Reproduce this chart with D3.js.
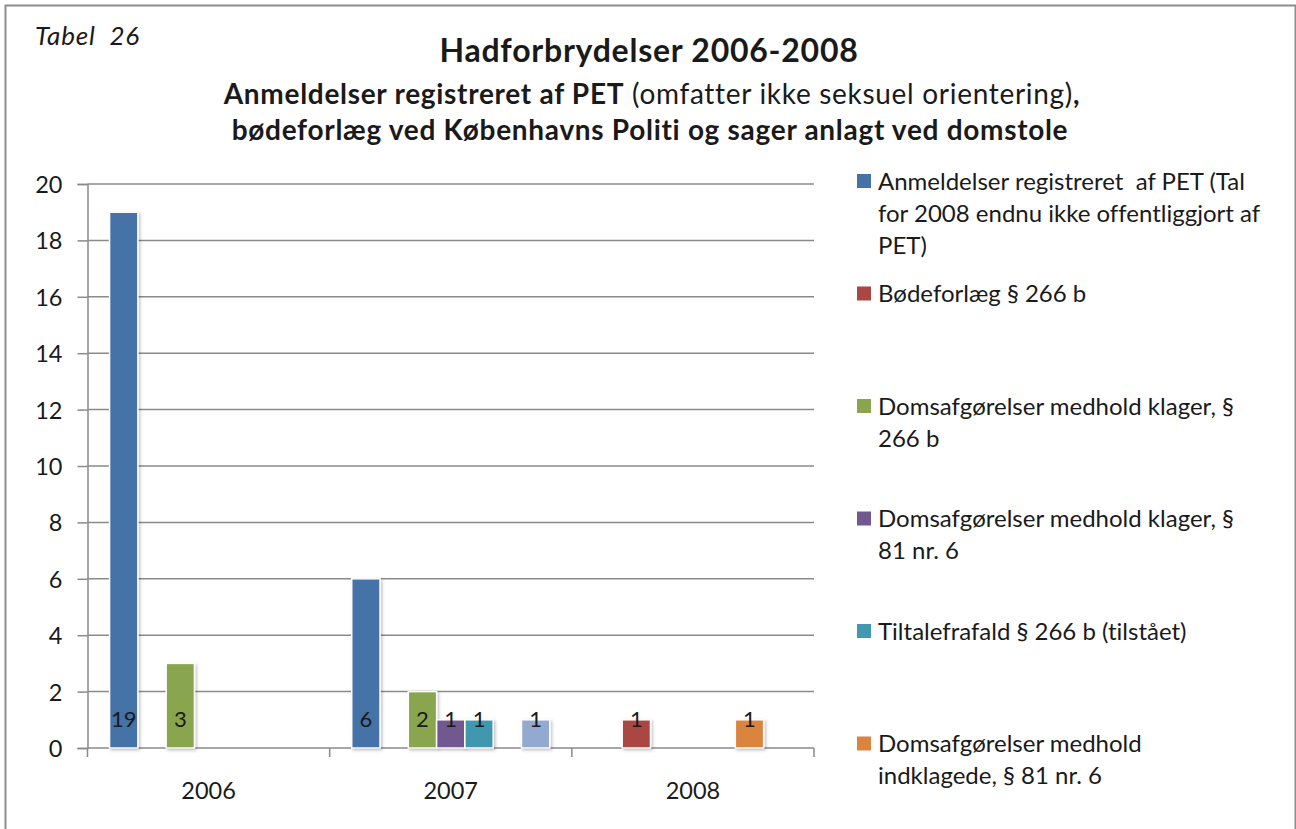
<!DOCTYPE html>
<html>
<head>
<meta charset="utf-8">
<script src="https://cdn.jsdelivr.net/npm/d3@7/dist/d3.min.js"></script>
<style>
  body { margin: 0; background: #fff; }
  text { font-family: Lato, "Open Sans", sans-serif; fill: #1a1a1a; font-variant-ligatures: none; }
</style>
</head>
<body>
<script>
var width = 1296,
    height = 829;

// data
var years = ['2006', '2007', '2008'];
var seriesNames = [
    ['Anmeldelser registreret  af PET (Tal', 'for 2008 endnu ikke offentliggjort af', 'PET)'],
    ['Bødeforlæg § 266 b'],
    ['Domsafgørelser medhold klager, §', '266 b'],
    ['Domsafgørelser medhold klager, §', '81 nr. 6'],
    ['Tiltalefrafald § 266 b (tilstået)'],
    ['Domsafgørelser medhold', 'indklagede, § 81 nr. 6'],
    [] // lyseblå serie, legendens post er skåret af
];
var seriesColors = ['#4572a7', '#aa4643', '#89a54e', '#71588f', '#4198af', '#db843d', '#93a9cf'];
var anmeldelser = [19, 6, null];
var boedeforlaeg = [null, null, 1];
var klager266 = [3, 2, null];
var klager81 = [null, 1, null];
var tiltalefrafald = [null, 1, null];
var indklagede81 = [null, null, 1];
var lysebla = [null, 1, null];
var seriesValues = [anmeldelser, boedeforlaeg, klager266, klager81, tiltalefrafald, indklagede81, lysebla];
var yTicks = [0, 2, 4, 6, 8, 10, 12, 14, 16, 18, 20];

var svg = d3.select('body').append('svg').attr('width', width).attr('height', height);

svg.append('rect').attr('x', 0).attr('y', 0).attr('width', width).attr('height', height).attr('fill', '#fff');
// ramme
svg.append('rect').attr('x', 5.5).attr('y', 5.5).attr('width', 1290).attr('height', 840)
    .attr('fill', 'none').attr('stroke', '#8c8c8c').attr('stroke-width', 2);

svg.append('text').attr('x', 35).attr('y', 45).style('font-size', '26px').style('font-style', 'italic')
    .style('letter-spacing', '0.8px').style('white-space', 'pre').text('Tabel  26');

svg.append('text').attr('x', 649).attr('y', 62).attr('text-anchor', 'middle')
    .style('font-size', '32px').style('font-weight', 'bold').style('letter-spacing', '0.75px')
    .text('Hadforbrydelser 2006-2008');

var sub1 = svg.append('text').attr('x', 652).attr('y', 104).attr('text-anchor', 'middle')
    .style('font-size', '28px').style('letter-spacing', '0.7px');
sub1.append('tspan').style('font-weight', 'bold').text('Anmeldelser registreret af PET');
sub1.append('tspan').text(' (omfatter ikke seksuel orientering)');
sub1.append('tspan').style('font-weight', 'bold').text(',');
svg.append('text').attr('x', 650).attr('y', 140).attr('text-anchor', 'middle')
    .style('font-size', '28px').style('letter-spacing', '0.7px')
    .style('font-weight', 'bold').text('bødeforlæg ved Københavns Politi og sager anlagt ved domstole');

// plotområde
var plotLeft = 87.5, plotRight = 814, plotTop = 184, plotBottom = 748;

var x0 = d3.scaleBand().domain(years).range([plotLeft, plotRight]).paddingInner(0).paddingOuter(0);
var x1 = d3.scaleBand().domain(d3.range(seriesValues.length)).range([0, x0.bandwidth()])
    .paddingInner(0).paddingOuter(0.78);
var y = d3.scaleLinear().domain([0, 20]).range([plotBottom, plotTop]);

// gitterlinjer
svg.append('g').selectAll('line').data(yTicks.slice(1)).enter().append('line')
    .attr('x1', plotLeft).attr('x2', plotRight)
    .attr('y1', function (d) { return y(d); }).attr('y2', function (d) { return y(d); })
    .attr('stroke', '#8a8a8a').attr('stroke-width', 1.5);

// y-akse
var yAxis = svg.append('g').attr('transform', 'translate(' + plotLeft + ',0)')
    .call(d3.axisLeft(y).tickValues(yTicks).tickSize(10).tickPadding(15));
yAxis.select('.domain').attr('stroke', '#8a8a8a').attr('stroke-width', 1.5);
yAxis.selectAll('.tick line').attr('stroke', '#8a8a8a').attr('stroke-width', 1.5);
yAxis.selectAll('.tick text').style('font-size', '23.5px').style('font-family', 'Lato, sans-serif')
    .attr('fill', '#1a1a1a').attr('dy', '0.36em');

// x-akse
var xAxis = svg.append('g').attr('transform', 'translate(0,' + plotBottom + ')');
xAxis.append('line').attr('x1', plotLeft).attr('x2', plotRight).attr('stroke', '#8a8a8a').attr('stroke-width', 1.5);
var bounds = years.map(function (d) { return x0(d); }).concat([plotRight]);
xAxis.selectAll('line.tk').data(bounds).enter().append('line').attr('class', 'tk')
    .attr('x1', function (d) { return d; }).attr('x2', function (d) { return d; })
    .attr('y1', 0).attr('y2', 9).attr('stroke', '#8a8a8a').attr('stroke-width', 1.5);
xAxis.selectAll('text').data(years).enter().append('text')
    .attr('x', function (d) { return x0(d) + x0.bandwidth() / 2; })
    .attr('y', 51).attr('text-anchor', 'middle').style('font-size', '23.5px').text(function (d) { return d; });

// søjler
var bars = [];
seriesValues.forEach(function (vals, s) {
    vals.forEach(function (v, i) {
        if (v != null) bars.push({ s: s, year: years[i], value: v });
    });
});

var defs = svg.append('defs');
var f = defs.append('filter').attr('id', 'shadow').attr('x', '-20%').attr('y', '-20%').attr('width', '150%').attr('height', '150%');
f.append('feDropShadow').attr('dx', 1.5).attr('dy', 1.5).attr('stdDeviation', 1.5).attr('flood-color', '#000').attr('flood-opacity', 0.25);

svg.append('g').selectAll('rect').data(bars).enter().append('rect')
    .attr('x', function (d) { return x0(d.year) + x1(d.s); })
    .attr('y', function (d) { return y(d.value); })
    .attr('width', x1.bandwidth())
    .attr('height', function (d) { return plotBottom - y(d.value); })
    .attr('fill', function (d) { return seriesColors[d.s]; })
    .attr('stroke', '#fff').attr('stroke-width', 1.5)
    .attr('filter', 'url(#shadow)');

svg.append('g').selectAll('text').data(bars).enter().append('text')
    .attr('x', function (d) { return x0(d.year) + x1(d.s) + x1.bandwidth() / 2; })
    .attr('y', plotBottom - 21)
    .attr('text-anchor', 'middle').style('font-size', '22px')
    .text(function (d) { return d.value; });

// legende
var legend = svg.append('g');
var item = legend.selectAll('g').data(seriesNames.map(function (n, i) { return { lines: n, i: i }; })
    .filter(function (d) { return d.lines.length; })).enter().append('g')
    .attr('transform', function (d) { return 'translate(857,' + (181 + d.i * 112.5) + ')'; });
item.append('rect').attr('x', 0).attr('y', -7).attr('width', 14).attr('height', 14)
    .attr('fill', function (d) { return seriesColors[d.i]; });
item.append('text').attr('x', 21).attr('y', 8.5).style('font-size', '24px').style('white-space', 'pre')
    .selectAll('tspan').data(function (d) { return d.lines; }).enter().append('tspan')
    .attr('x', 21).attr('dy', function (d, j) { return j ? 32 : 0; })
    .text(function (d) { return d; });
</script>
</body>
</html>
